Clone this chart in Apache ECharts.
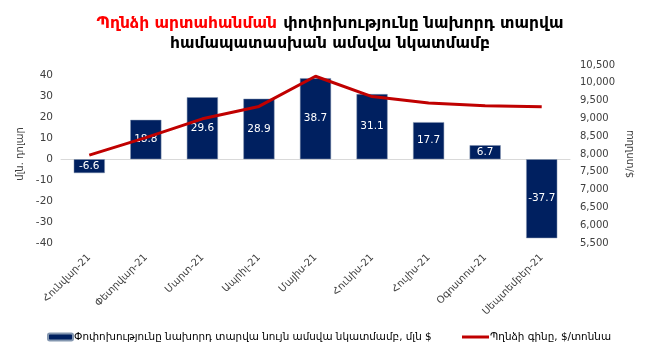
<!DOCTYPE html>
<html>
<head>
<meta charset="utf-8">
<script src="https://cdn.jsdelivr.net/npm/echarts@6/dist/echarts.min.js"></script>
<style>html,body{margin:0;padding:0;background:#fff}#c{width:648px;height:361px}</style>
</head>
<body>
<div id="c"></div>
<script>
const categories = ['Հունվար-21','Փետրվար-21','Մարտ-21','Ապրիլ-21','Մայիս-21','Հունիս-21','Հուլիս-21','Օգոստոս-21','Սեպտեմբեր-21'];
const changeValues = [-6.6, 18.8, 29.6, 28.9, 38.7, 31.1, 17.7, 6.7, -37.7];
const priceValues = [7970, 8460, 8988, 9336, 10184, 9612, 9434, 9358, 9324];
const barName = 'Փոփոխությունը նախորդ տարվա նույն ամսվա նկատմամբ, մլն $';
const lineName = 'Պղնձի գինը, $/տոննա';
const titleRed = 'Պղնձի արտահանման';
const titleBlack1 = 'փոփոխությունը նախորդ տարվա';
const titleBlack2 = 'համապատասխան ամսվա նկատմամբ';

const FONT = 'DejaVu Sans';
// fit font sizes to the reference text widths
const cv = document.createElement('canvas').getContext('2d');
function fitSize(text, target, weight) {
  cv.font = (weight || 'normal') + ' 20px "' + FONT + '"';
  const w = cv.measureText(text).width;
  return Math.round(20 * target / w * 10) / 10;
}
const titleSize = Math.min(16, fitSize(titleRed + ' ' + titleBlack1, 466, 'bold'));
const legendSize = Math.min(12, fitSize(barName, 357));

const chart = echarts.init(document.getElementById('c'));
chart.setOption({
  animation: false,
  textStyle: {fontFamily: FONT},
  title: {
    text: '{r|' + titleRed + '} {k|' + titleBlack1 + '}\n{k|' + titleBlack2 + '}',
    left: 325, top: 9, textAlign: 'center',
    textStyle: {
      rich: {
        r: {color: '#ff0000', fontSize: titleSize, fontWeight: 'bold', fontFamily: FONT, lineHeight: 20},
        k: {color: '#000', fontSize: titleSize, fontWeight: 'bold', fontFamily: FONT, lineHeight: 20}
      }
    }
  },
  legend: [
    {data: [barName], left: 42, top: 327, itemWidth: 25, itemHeight: 7, itemGap: 4,
     textStyle: {fontSize: legendSize, color: '#000', fontFamily: FONT, padding: [0,0,0,-4]}},
    {data: [{name: lineName, icon: 'rect'}], left: 457, top: 327, itemWidth: 27, itemHeight: 3,
     textStyle: {fontSize: legendSize, color: '#000', fontFamily: FONT, padding: [0,0,0,-4]}}
  ],
  grid: {left: 61, right: 78, top: 65, bottom: 118, containLabel: false},
  xAxis: {
    type: 'category', data: categories,
    axisTick: {show: false},
    axisLine: {show: true, onZero: true, lineStyle: {color: '#d9d9d9', width: 1}},
    axisLabel: {rotate: 45, interval: 0, fontSize: 10, color: '#404040', fontFamily: FONT, margin: 13}
  },
  yAxis: [
    {type: 'value', min: -40, max: 45, interval: 10,
     name: 'մլն. դոլար', nameLocation: 'middle', nameRotate: 90, nameGap: 32,
     nameTextStyle: {fontSize: 10, color: '#404040', fontFamily: FONT},
     splitLine: {show: false}, axisLine: {show: false}, axisTick: {show: false},
     axisLabel: {showMaxLabel: false, fontSize: 10.5, color: '#404040', fontFamily: FONT, margin: 8}},
    {type: 'value', min: 5500, max: 10500, interval: 500,
     name: '$/տոննա', nameLocation: 'middle', nameRotate: 90, nameGap: 52,
     nameTextStyle: {fontSize: 10, color: '#404040', fontFamily: FONT},
     splitLine: {show: false}, axisLine: {show: false}, axisTick: {show: false},
     axisLabel: {fontSize: 10, color: '#404040', fontFamily: FONT, margin: 10,
       formatter: v => String(v).replace(/\B(?=(\d{3})+(?!\d))/g, ',')}}
  ],
  series: [
    {name: barName, type: 'bar', data: changeValues, yAxisIndex: 0, barWidth: '55%',
     itemStyle: {color: '#002060', borderColor: '#8497b0', borderWidth: 0.5},
     label: {show: true, position: 'inside', color: '#fff', fontSize: 10.5, fontFamily: FONT,
       formatter: p => p.value.toFixed(1)}},
    {name: lineName, type: 'line', data: priceValues, yAxisIndex: 1, showSymbol: false, symbol: 'none',
     lineStyle: {color: '#c00000', width: 3}, itemStyle: {color: '#c00000'}}
  ]
});
</script>
</body>
</html>
